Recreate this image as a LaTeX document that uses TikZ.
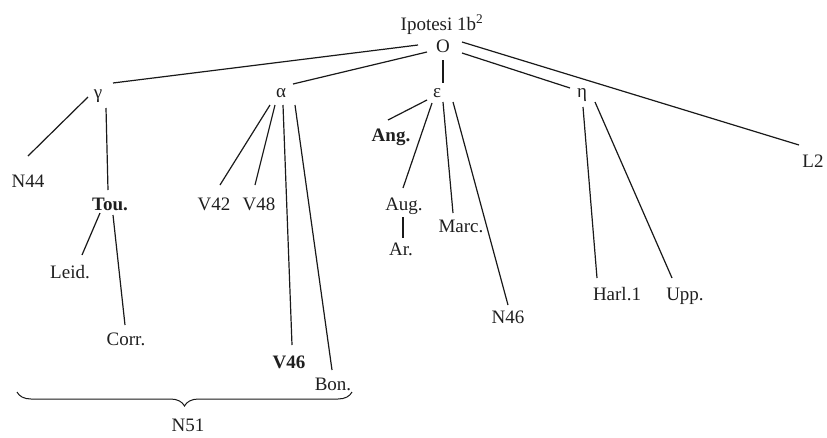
\documentclass[tikz,border=0pt]{standalone}
\usepackage{fontspec}
\setmainfont{Liberation Serif}
\usetikzlibrary{decorations.pathreplacing}
\begin{document}
\begin{tikzpicture}[x=1pt,y=-1pt,
  lbl/.style={anchor=base,inner sep=0pt,font=\fontsize{19}{22}\selectfont,text=black!88},
  blbl/.style={lbl,font=\fontsize{19}{22}\selectfont\bfseries},
  edge/.style={line width=1.2pt,black!90}]
\useasboundingbox (0,0) rectangle (827,437);
% nodes
\node[lbl] (title) at (442,30) {Ipotesi 1b\textsuperscript{2}};
\node[lbl] (O) at (443,52) {O};
\node[lbl] (g) at (98,98) {γ};
\node[lbl] (a) at (281,97) {α};
\node[lbl] (e) at (437,97) {ε};
\node[lbl] (h) at (582,97) {η};
\node[lbl] (L2) at (813,167) {L2};
\node[lbl] (N44) at (28,187) {N44};
\node[blbl] (Tou) at (110,210) {Tou.};
\node[lbl] (V42) at (214,210) {V42};
\node[lbl] (V48) at (259,210) {V48};
\node[lbl] (Leid) at (70,278) {Leid.};
\node[lbl] (Corr) at (126,345) {Corr.};
\node[blbl] (V46) at (289,368) {V46};
\node[lbl] (Bon) at (333,390) {Bon.};
\node[blbl] (Ang) at (391,141) {Ang.};
\node[lbl] (Aug) at (404,210) {Aug.};
\node[lbl] (Ar) at (401,255) {Ar.};
\node[lbl] (Marc) at (461,232) {Marc.};
\node[lbl] (N46) at (508,323) {N46};
\node[lbl] (Harl) at (617,300) {Harl.1};
\node[lbl] (Upp) at (685,300) {Upp.};
\node[lbl] (N51) at (188,431) {N51};
\coordinate (br1) at (17,392);
\coordinate (br2) at (352,392);
% connectors
\draw[edge] ([shift={(-25,-7)}]O.base) -- ([shift={(15,-15)}]g.base);
\draw[edge] ([shift={(-16,0)}]O.base) -- ([shift={(12,-13)}]a.base);
\draw[edge] ([shift={(0,8)}]O.base) -- ([shift={(6,-14)}]e.base);
\draw[edge] ([shift={(19,1)}]O.base) -- ([shift={(-12,-9)}]h.base);
\draw[edge] ([shift={(19,-10)}]O.base) -- ([shift={(-14,-22)}]L2.base);
\draw[edge] ([shift={(-10,-1)}]g.base) -- ([shift={(0,-31)}]N44.base);
\draw[edge] ([shift={(8,10)}]g.base) -- ([shift={(-2,-20)}]Tou.base);
\draw[edge] ([shift={(-10,3)}]Tou.base) -- ([shift={(12,-23)}]Leid.base);
\draw[edge] ([shift={(3,5)}]Tou.base) -- ([shift={(-1,-20)}]Corr.base);
\draw[edge] ([shift={(-11,8)}]a.base) -- ([shift={(6,-25)}]V42.base);
\draw[edge] ([shift={(-6,8)}]a.base) -- ([shift={(-4,-25)}]V48.base);
\draw[edge] ([shift={(2,8)}]a.base) -- ([shift={(3,-23)}]V46.base);
\draw[edge] ([shift={(14,8)}]a.base) -- ([shift={(-1,-20)}]Bon.base);
\draw[edge] ([shift={(-10,3)}]e.base) -- ([shift={(-3,-21)}]Ang.base);
\draw[edge] ([shift={(-5,6)}]e.base) -- ([shift={(-1,-22)}]Aug.base);
\draw[edge] ([shift={(-1,7)}]Aug.base) -- ([shift={(2,-17)}]Ar.base);
\draw[edge] ([shift={(6,5)}]e.base) -- ([shift={(-8,-19)}]Marc.base);
\draw[edge] ([shift={(16,5)}]e.base) -- ([shift={(0,-18)}]N46.base);
\draw[edge] ([shift={(1,10)}]h.base) -- ([shift={(-20,-22)}]Harl.base);
\draw[edge] ([shift={(13,5)}]h.base) -- ([shift={(-13,-22)}]Upp.base);
% brace
\draw[edge,line width=1pt,decorate,decoration={brace,mirror,amplitude=14pt}] (br1) -- (br2);
\end{tikzpicture}
\end{document}
